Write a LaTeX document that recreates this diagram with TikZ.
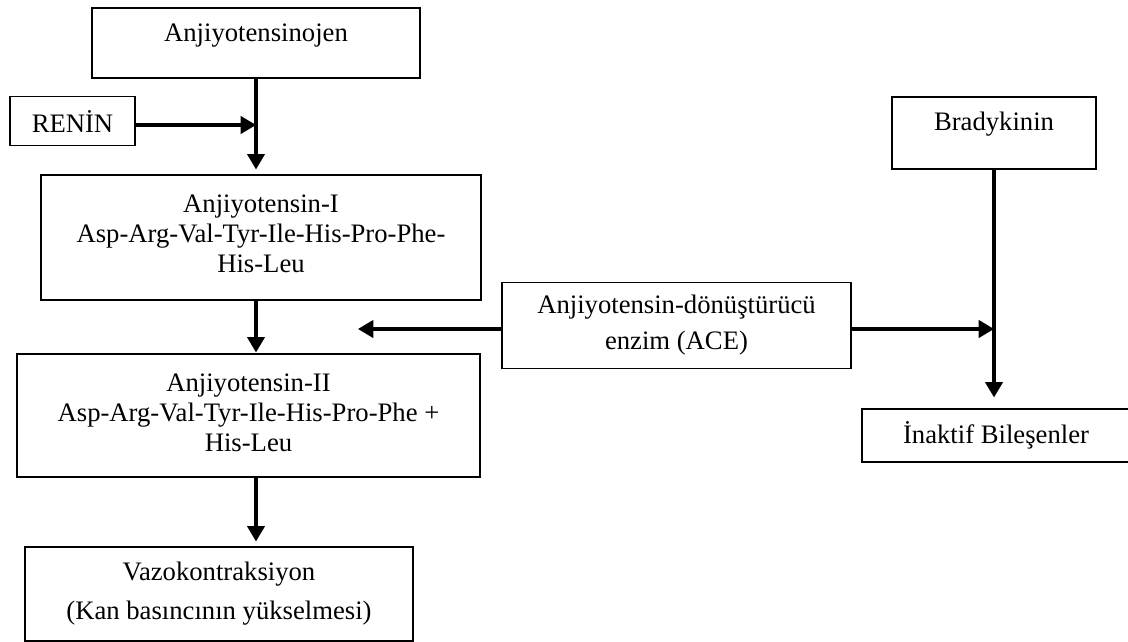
\documentclass[tikz,border=0pt]{standalone}
\usepackage{fontspec}
\setmainfont{Liberation Serif}
\usetikzlibrary{arrows.meta, positioning}

\begin{document}
\begin{tikzpicture}[
  x=0.75pt, y=-0.75pt,
  box/.style={draw, line width=0.9pt, align=center, inner sep=2pt,
    font=\fontsize{20}{22.5}\selectfont},
  arr/.style={-{Triangle[length=11.5pt, width=13pt]}, line width=2.3pt}
]
\useasboundingbox (0,0) rectangle (1128,642);
% left column
\node[box, minimum width=246pt, minimum height=52.5pt, text height=13.5pt, text depth=15pt] (anj) at (256,43) {Anjiyotensinojen};
\node[box, minimum width=93.75pt, minimum height=36.75pt] (renin) at (72.5,121) {RENİN};
\node[box, minimum width=330pt, minimum height=93.75pt, text depth=5pt] (ang1) at (261,237.5)
  {Anjiyotensin-I\\Asp-Arg-Val-Tyr-Ile-His-Pro-Phe-\\His-Leu};
\node[box, minimum width=347.25pt, minimum height=92.25pt, text depth=4.5pt] (ang2) at (248.5,415.5)
  {Anjiyotensin-II\\Asp-Arg-Val-Tyr-Ile-His-Pro-Phe +\\His-Leu};
\node[box, minimum width=291pt, minimum height=70.5pt, font=\fontsize{20}{29.25}\selectfont] (vazo) at (219,594)
  {Vazokontraksiyon\\(Kan basıncının yükselmesi)};
% right side
\node[box, minimum width=261.75pt, minimum height=65pt, font=\fontsize{20}{27}\selectfont] (ace) at (676.5,325.5)
  {Anjiyotensin-dönüştürücü\\enzim (ACE)};
\node[box, minimum width=153pt, minimum height=54pt, text height=13.5pt, text depth=16.5pt] (brady) at (994,133) {Bradykinin};
\node[box, minimum width=201pt, minimum height=39.75pt, text height=17pt] (inaktif) at (996,435.5) {İnaktif Bileşenler};
\coordinate (acetip) at (358,329);

\draw[arr, shorten >=3.75pt] (anj.south) -- (anj.south |- ang1.north);
\draw[arr] ([yshift=-3pt]renin.east) -- ([yshift=-3pt]renin.east -| anj.south);
\draw[arr, shorten >=0.75pt] (ang1.south -| anj.south) -- (ang2.north -| anj.south);
\draw[arr, shorten >=3.75pt] (ang2.south -| anj.south) -- (vazo.north -| anj.south);
\draw[arr] (ace.west |- acetip) -- (acetip);
\draw[arr] (ace.east |- acetip) -- (acetip -| brady.south);
\draw[arr, shorten >=8.25pt] (brady.south) -- (brady.south |- inaktif.north);
\end{tikzpicture}
\end{document}
